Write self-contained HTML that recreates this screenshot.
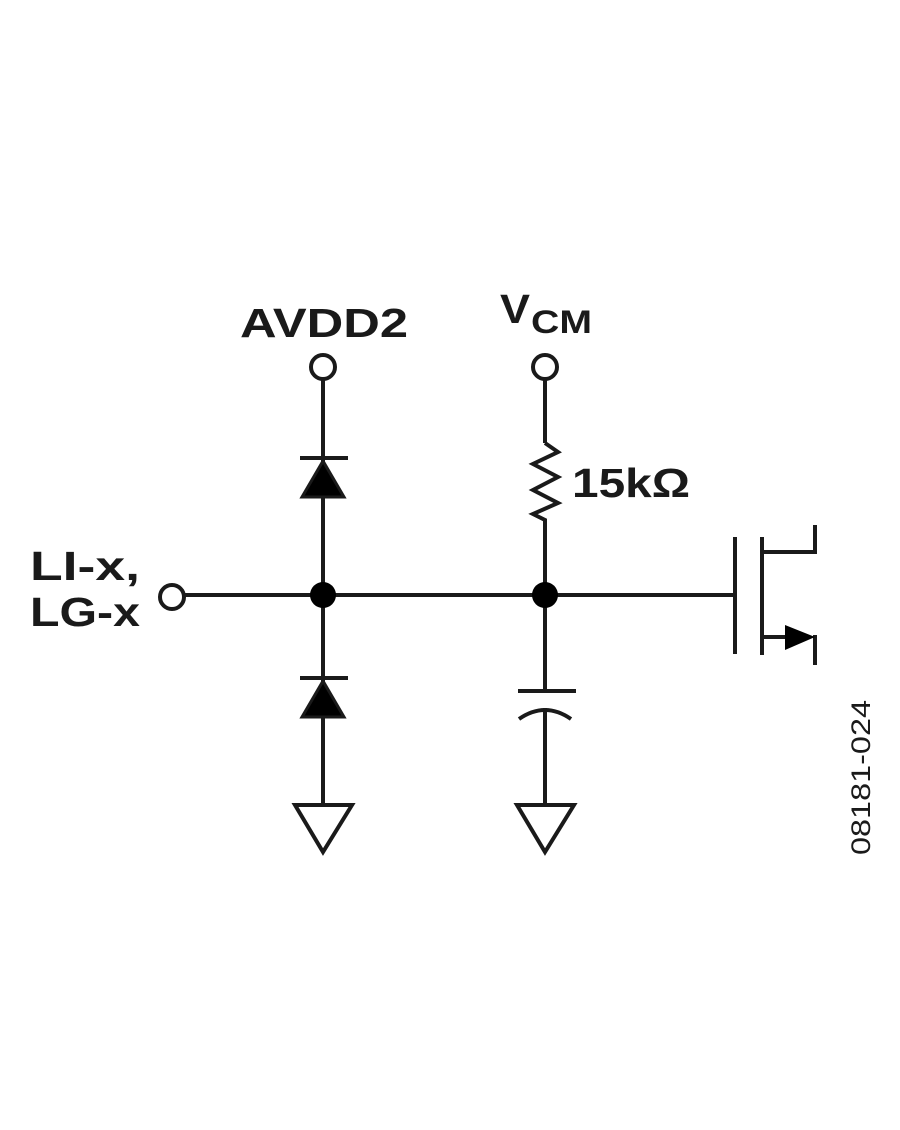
<!DOCTYPE html>
<html><head><style>body{margin:0;background:#fff}</style></head><body>
<svg width="900" height="1130" viewBox="0 0 900 1130" xmlns="http://www.w3.org/2000/svg" style="display:block">
<g stroke="#1a1a1a" stroke-width="4" fill="none">
<circle cx="323" cy="367" r="12"/>
<circle cx="545" cy="367" r="12"/>
<circle cx="172" cy="597" r="12"/>
<line x1="323" y1="379" x2="323" y2="805"/>
<line x1="545" y1="379" x2="545" y2="443"/>
<polyline points="545,443 558,452 533,464 558,477 533,490 558,503 533,514 545,520 545,690"/>
<line x1="184" y1="595" x2="735" y2="595"/>
<line x1="300" y1="458" x2="348" y2="458"/>
<line x1="300" y1="678" x2="348" y2="678"/>
<line x1="518" y1="691" x2="576" y2="691"/>
<path d="M519 719 Q545 701 571 719"/>
<line x1="545" y1="708" x2="545" y2="805"/>
<polygon points="295,805 352,805 323,852"/>
<polygon points="517,805 574,805 545,852"/>
<line x1="735" y1="537" x2="735" y2="654"/>
<line x1="762" y1="537" x2="762" y2="655"/>
<polyline points="762,552 815,552 815,525"/>
<line x1="762" y1="637" x2="790" y2="637"/>
<line x1="815" y1="635" x2="815" y2="665"/>
</g>
<g fill="#000">
<polygon points="323,461 302,497 344,497" stroke="#1a1a1a" stroke-width="3"/>
<polygon points="323,681 302,717 344,717" stroke="#1a1a1a" stroke-width="3"/>
<circle cx="323" cy="595" r="13"/>
<circle cx="545" cy="595" r="13"/>
<polygon points="785,625 815,637 785,650"/>
</g>
<g font-family="Liberation Sans, sans-serif" font-weight="bold" fill="#1a1a1a">
<text x="240" y="337" font-size="41" textLength="168" lengthAdjust="spacingAndGlyphs">AVDD2</text>
<text x="500" y="323" font-size="41" textLength="30" lengthAdjust="spacingAndGlyphs">V</text>
<text x="531" y="333" font-size="32" textLength="61" lengthAdjust="spacingAndGlyphs">CM</text>
<text x="572" y="497" font-size="41" textLength="118" lengthAdjust="spacingAndGlyphs">15kΩ</text>
<text x="30" y="580" font-size="41" textLength="110" lengthAdjust="spacingAndGlyphs">LI-x,</text>
<text x="30" y="626" font-size="41" textLength="110" lengthAdjust="spacingAndGlyphs">LG-x</text>
</g>
<text transform="translate(870,855) rotate(-90)" font-family="Liberation Sans, sans-serif" font-size="27" fill="#1a1a1a" textLength="155" lengthAdjust="spacingAndGlyphs">08181-024</text>
</svg>
</body></html>
